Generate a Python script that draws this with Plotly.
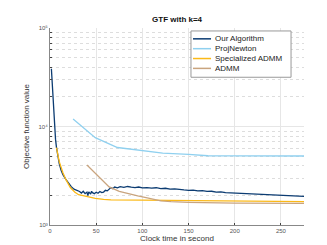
import plotly.graph_objects as go

# Our Algorithm
ours_x = [1.5, 2.5, 3.5, 4.5, 6, 7, 8.5, 10, 12, 14, 17, 20, 23, 26, 28, 30, 32, 34, 36, 38, 40, 41, 42, 44, 45, 46, 48, 50, 52, 54, 56, 58, 60, 62, 64, 66, 68, 70, 73, 76, 80, 84, 88, 92, 96, 100,
          105, 110, 115, 120, 125, 130, 135, 140, 145, 150, 155, 160, 165, 170, 175, 180, 185, 190, 195, 200, 205, 210, 215, 220, 225, 230, 235, 240, 245, 250, 255, 260, 265, 270, 275]
ours_y = [38500, 27000, 16000, 10000, 7400, 6150, 5000, 4200, 3600, 3250, 2920, 2650, 2450, 2310, 2280, 2220, 2190, 2110, 2200, 2080, 2160, 1990, 2170, 2060, 2200, 2130, 2080, 2150, 2100, 2190, 2130, 2160, 2250, 2220, 2300, 2400, 2340, 2430, 2380, 2450, 2410, 2460, 2420, 2400, 2430, 2380,
          2400, 2370, 2390, 2340, 2360, 2310, 2330, 2280, 2270, 2250, 2260, 2220, 2230, 2190, 2200, 2160, 2170, 2130, 2120, 2100, 2110, 2080, 2070, 2060, 2040, 2050, 2020, 2010, 2000, 1990, 1990, 1970, 1970, 1960, 1950]

# ProjNewton
proj_x = [25, 49, 73, 100, 122, 150, 171, 200, 250, 275]
proj_y = [11900, 7700, 6120, 5750, 5370, 5200, 5050, 5030, 5020, 5020]

# Specialized ADMM
spec_x = [7, 10, 14, 17, 22, 27, 31, 40, 49, 58, 66, 100, 150, 200, 275]
spec_y = [6100, 4400, 3400, 2920, 2400, 2150, 2030, 1930, 1860, 1820, 1800, 1790, 1770, 1750, 1730]

# ADMM
admm_x = [40, 52, 64, 75, 86, 95, 104, 112, 120, 131, 150, 200, 275]
admm_y = [4070, 3150, 2440, 2200, 2060, 1980, 1900, 1820, 1760, 1725, 1700, 1670, 1655]

names = ["Our Algorithm", "ProjNewton", "Specialized ADMM", "ADMM"]
colors = ["#0c3c72", "#8fd0ef", "#fbb917", "#c9a47e"]
x_ticks = [0, 50, 100, 150, 200, 250]
y_ticks = [1e3, 1e4, 1e5]
y_tick_text = ["10³", "10⁴", "10⁵"]

fig = go.Figure()
for nm, xs, ys, c in zip(names, [ours_x, proj_x, spec_x, admm_x], [ours_y, proj_y, spec_y, admm_y], colors):
    fig.add_trace(go.Scatter(x=xs, y=ys, mode="lines", name=nm, line=dict(color=c, width=1.3),
                             showlegend=False))

# compact legend box (matlab-like)
leg_x0, leg_x1, leg_top, leg_bot = 0.555, 0.949, 0.985, 0.75
fig.add_shape(type="rect", xref="paper", yref="paper", x0=leg_x0, x1=leg_x1, y0=leg_bot, y1=leg_top,
              line=dict(color="#999", width=1), fillcolor="white", layer="above")
for i, (nm, c) in enumerate(zip(names, colors)):
    yy = 0.945 - i * 0.05
    fig.add_shape(type="line", xref="paper", yref="paper", x0=0.563, x1=0.634, y0=yy, y1=yy,
                  line=dict(color=c, width=1.5), layer="above")
    fig.add_annotation(xref="paper", yref="paper", x=0.64, y=yy, text=nm, showarrow=False,
                       xanchor="left", yanchor="middle", font=dict(size=8, color="#222"))

minor_vals = [k * 10 ** e for e in (3, 4) for k in range(2, 10)]
fig.update_layout(
    width=327, height=245,
    margin=dict(l=42, r=31, t=20, b=28),
    paper_bgcolor="white", plot_bgcolor="white",
    font=dict(family="Liberation Sans, Arial, sans-serif", color="#333"),
    title=dict(text="<b>GTF with k=4</b>", x=0.517, xanchor="center", y=0.965, yanchor="top",
               font=dict(size=8, color="#111")),
    showlegend=False,
    xaxis=dict(range=[0, 275], tickvals=x_ticks, ticks="inside", ticklen=2, automargin=False,
               tickfont=dict(size=6, color="#555"), showgrid=True, gridcolor="#e6e6e6", gridwidth=1,
               showline=True, linecolor="#888", linewidth=1, zeroline=False,
               title=dict(text="Clock time in second", font=dict(size=8, color="#333"), standoff=2)),
    yaxis=dict(type="log", range=[3, 5], tickvals=y_ticks, ticktext=y_tick_text, automargin=False,
               ticks="inside", ticklen=2, tickfont=dict(size=6, color="#555"),
               showgrid=True, gridcolor="#e6e6e6", showline=True, linecolor="#888", linewidth=1,
               zeroline=False,
               minor=dict(tickvals=minor_vals, ticks="inside", ticklen=1.5, showgrid=True,
                          gridcolor="#dddddd", griddash="dot", gridwidth=1),
               title=dict(text="Objective function value", font=dict(size=8, color="#333"), standoff=7)),
)
fig.write_html("out.html")
